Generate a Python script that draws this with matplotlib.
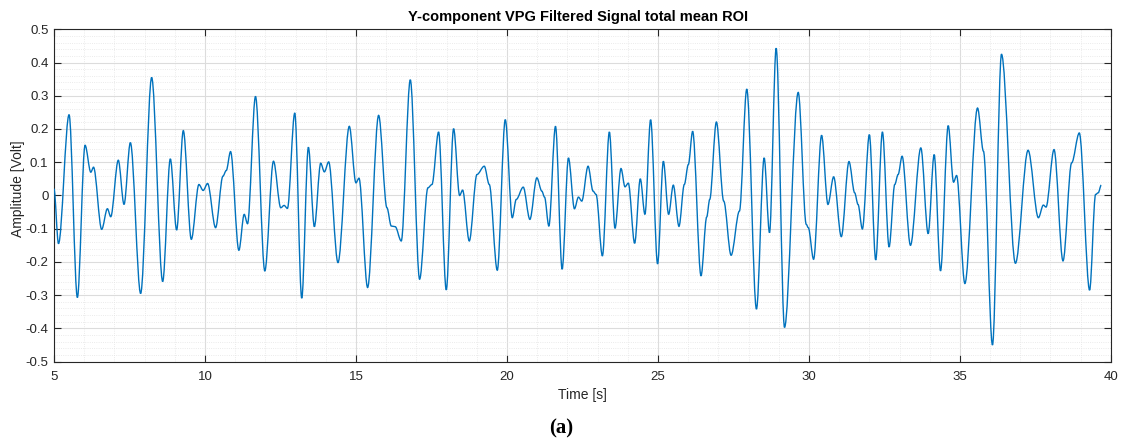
import numpy as np
import matplotlib
matplotlib.use('Agg')
import matplotlib.pyplot as plt
from matplotlib.ticker import MultipleLocator
from matplotlib.path import Path
from matplotlib.patches import PathPatch

plt.rcParams['font.family'] = ['Liberation Sans', 'DejaVu Sans']
plt.rcParams['axes.unicode_minus'] = False

# signal (peaks, troughs and shoulders)
time_s = [5.00, 5.15, 5.50, 5.775, 6.03, 6.22, 6.31, 6.58, 6.77, 6.88,
          7.13, 7.32, 7.53, 7.87, 8.235, 8.60, 8.853, 9.062, 9.283, 9.548,
          9.80, 9.94, 10.088, 10.352, 10.595, 10.705, 10.848, 11.123, 11.30, 11.41,
          11.674, 11.982, 12.269, 12.511, 12.621, 12.731, 12.974, 13.205, 13.425, 13.623,
          13.833, 13.954, 14.097, 14.405, 14.78, 15.0, 15.10, 15.386, 15.751, 16.026,
          16.17, 16.30, 16.50, 16.80, 17.108, 17.384, 17.517, 17.737, 17.991, 18.234,
          18.433, 18.532, 18.753, 19.007, 19.25, 19.415, 19.68, 19.945, 20.177, 20.308,
          20.54, 20.76, 20.991, 21.156, 21.245, 21.388, 21.608, 21.828, 22.037, 22.236,
          22.368, 22.478, 22.687, 22.852, 22.952, 23.161, 23.392, 23.579, 23.777, 23.91,
          24.02, 24.229, 24.416, 24.57, 24.758, 24.989, 25.18, 25.354, 25.509, 25.697,
          25.874, 26.007, 26.15, 26.427, 26.615, 26.715, 26.936, 27.179, 27.423, 27.699,
          27.942, 28.263, 28.518, 28.695, 28.916, 29.192, 29.646, 29.912, 29.98, 30.155,
          30.42, 30.63, 30.819, 31.073, 31.327, 31.515, 31.626, 31.77, 32.002, 32.212,
          32.434, 32.655, 32.843, 32.954, 33.086, 33.363, 33.706, 33.949, 34.148, 34.358,
          34.613, 34.79, 34.89, 35.165, 35.584, 35.78, 36.079, 36.377, 36.839, 37.258,
          37.599, 37.764, 37.852, 38.117, 38.414, 38.70, 38.954, 39.295, 39.493, 39.581,
          39.68]
amplitude = [0.02, -0.145, 0.243, -0.307, 0.151, 0.07, 0.085, -0.102, -0.04, -0.064,
             0.106, -0.027, 0.159, -0.295, 0.355, -0.259, 0.11, -0.104, 0.195, -0.132,
             0.033, 0.015, 0.036, -0.097, 0.058, 0.075, 0.132, -0.165, -0.057, -0.085,
             0.298, -0.227, 0.103, -0.037, -0.03, -0.039, 0.248, -0.309, 0.145, -0.094,
             0.097, 0.071, 0.101, -0.202, 0.208, 0.038, 0.052, -0.277, 0.241, -0.037,
             -0.092, -0.094, -0.137, 0.348, -0.252, 0.023, 0.033, 0.191, -0.284, 0.201,
             0.0, 0.016, -0.137, 0.063, 0.088, 0.033, -0.225, 0.228, -0.067, -0.012,
             0.025, -0.072, 0.053, 0.013, -0.005, -0.092, 0.208, -0.222, 0.113, -0.04,
             -0.005, -0.017, 0.088, 0.013, 0.003, -0.182, 0.191, -0.099, 0.081, 0.026,
             0.037, -0.144, 0.05, -0.057, 0.228, -0.206, 0.103, -0.057, 0.031, -0.093,
             0.033, 0.093, 0.193, -0.242, -0.065, -0.012, 0.221, -0.017, -0.18, -0.047,
             0.32, -0.342, 0.113, -0.112, 0.443, -0.397, 0.31, -0.087, -0.097, -0.192,
             0.181, -0.027, 0.056, -0.124, 0.102, 0.008, -0.027, -0.101, 0.183, -0.194,
             0.191, -0.155, 0.033, 0.063, 0.118, -0.15, 0.143, -0.115, 0.123, -0.227,
             0.21, 0.04, 0.06, -0.265, 0.263, 0.133, -0.45, 0.425, -0.204, 0.136,
             -0.067, -0.029, -0.035, 0.138, -0.197, 0.098, 0.188, -0.285, 0.003, 0.008,
             0.031]

xticks = [5, 10, 15, 20, 25, 30, 35, 40]
yticks = [-0.5, -0.4, -0.3, -0.2, -0.1, 0, 0.1, 0.2, 0.3, 0.4, 0.5]
ytick_labels = ['-0.5', '-0.4', '-0.3', '-0.2', '-0.1', '0', '0.1', '0.2', '0.3', '0.4', '0.5']

fig = plt.figure(figsize=(11.22, 4.41), dpi=100)
ax = fig.add_axes([0.0481, 0.180, 0.942, 0.7536])

# draw the trace as a smooth bezier path through the read points
# (flat tangent at each peak / trough)
verts = [(time_s[0], amplitude[0])]
codes = [Path.MOVETO]
for i in range(1, len(time_s)):
    dt = time_s[i] - time_s[i - 1]
    verts += [(time_s[i - 1] + dt / 3, amplitude[i - 1]),
              (time_s[i] - dt / 3, amplitude[i]),
              (time_s[i], amplitude[i])]
    codes += [Path.CURVE4] * 3
trace = PathPatch(Path(verts, codes), facecolor='none', edgecolor='#0072BD',
                  linewidth=1.0, zorder=3)
ax.add_patch(trace)

ax.set_xlim(5, 40)
ax.set_ylim(-0.5, 0.5)
ax.set_xticks(xticks)
ax.set_xticklabels([str(x) for x in xticks])
ax.set_yticks(yticks)
ax.set_yticklabels(ytick_labels)
ax.xaxis.set_minor_locator(MultipleLocator(1))
ax.yaxis.set_minor_locator(MultipleLocator(0.02))

ax.grid(True, which='major', color='#dcdcdc', linewidth=0.8, linestyle='-')
ax.grid(True, which='minor', color='#e4e4e4', linewidth=0.6, linestyle=':')
ax.set_axisbelow(True)

ax.tick_params(which='major', direction='in', length=5, width=0.8, colors='#262626',
               labelsize=9.5, top=True, right=True)
ax.tick_params(axis='x', which='major', pad=7)
ax.tick_params(axis='y', which='major', pad=4)
ax.tick_params(which='minor', length=0, top=True, right=True)
for s in ax.spines.values():
    s.set_color('#262626')
    s.set_linewidth(0.8)

ax.set_title('Y-component VPG Filtered Signal total mean ROI', fontsize=10.5,
             fontweight='bold', color='black', pad=6, x=0.4957)
ax.set_xlabel('Time [s]', fontsize=10, color='#262626')
ax.xaxis.set_label_coords(0.5, -0.078)
ax.set_ylabel('Amplitude [Volt]', fontsize=10, color='#262626', va='center')
ax.yaxis.set_label_coords(-0.034, 0.52)

fig.text(0.5005, 0.029, '(a)', ha='center', va='center', fontsize=15,
         fontweight='bold', family=['Liberation Serif', 'DejaVu Serif'])

fig.savefig('out.png', dpi=100)
